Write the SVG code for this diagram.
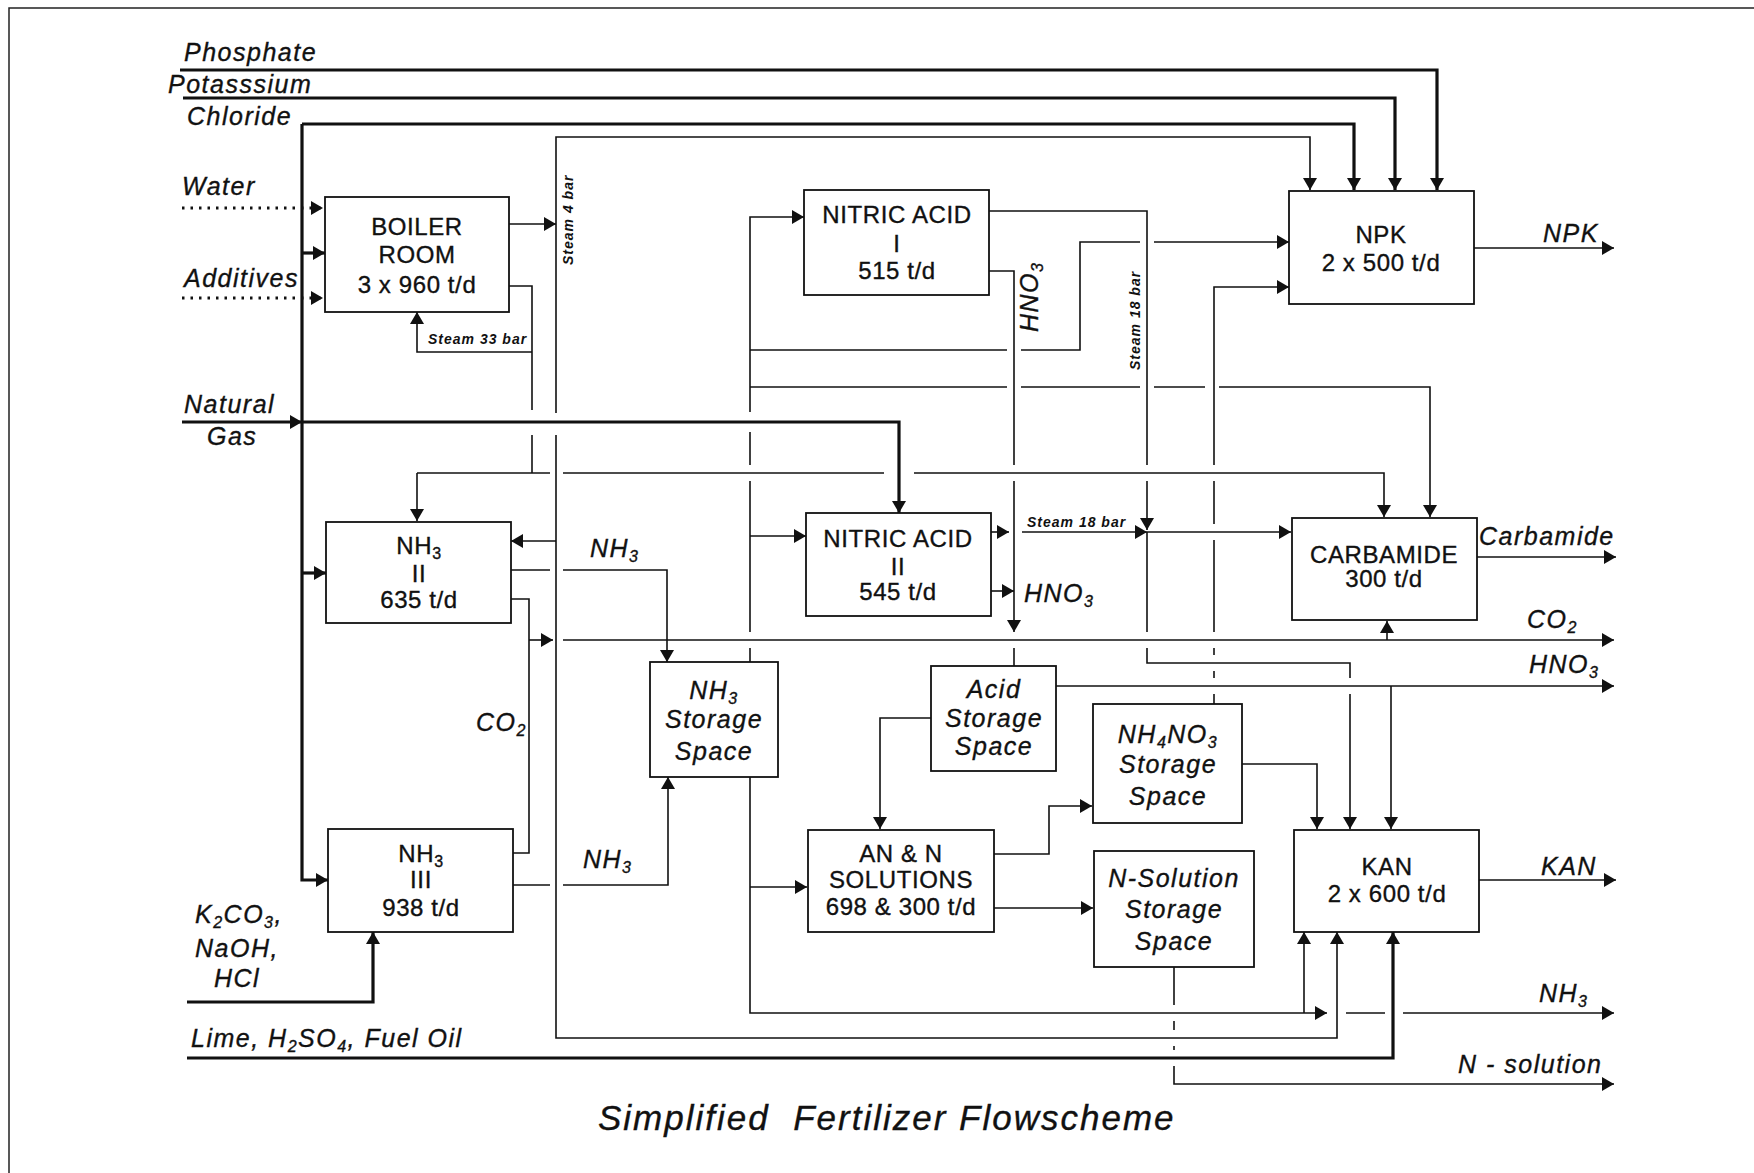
<svg xmlns="http://www.w3.org/2000/svg" width="1754" height="1173" viewBox="0 0 1754 1173">
<style>
.bx{fill:#fff;stroke:#111;stroke-width:1.8}
.t{font-family:"Liberation Sans",Arial,sans-serif;font-size:24px;letter-spacing:0.6px;text-anchor:middle;fill:#111;stroke:#111;stroke-width:0.35}
.ti{font-family:"Liberation Sans",Arial,sans-serif;font-style:italic;font-size:25px;letter-spacing:1.5px;fill:#111;stroke:#111;stroke-width:0.35}
.tc{text-anchor:middle}
.ts{font-family:"Liberation Sans",Arial,sans-serif;font-style:italic;font-weight:bold;font-size:14px;letter-spacing:1px;fill:#111}
.title{font-family:"Liberation Sans",Arial,sans-serif;font-style:italic;font-size:35px;letter-spacing:2px;fill:#111;stroke:#111;stroke-width:0.35}
.thin{fill:none;stroke:#111;stroke-width:1.6}
.thick{fill:none;stroke:#111;stroke-width:3.2}
.dot{fill:none;stroke:#111;stroke-width:3;stroke-dasharray:2.5 6}
.frame{fill:none;stroke:#222;stroke-width:1.5}
</style>
<defs>
<marker id="ah" markerUnits="userSpaceOnUse" markerWidth="13" markerHeight="15" refX="12" refY="7" orient="auto"><path d="M0,0 L12,7 L0,14 z" fill="#111"/></marker>
</defs>
<rect width="1754" height="1173" fill="#fff"/>
<path class="frame" d="M1754,8 H9 V1173"/>

<g id="connectors">
<path class="thick" d="M180,70 H1437 V190" marker-end="url(#ah)"/>
<path class="thick" d="M183,98 H1395 V190" marker-end="url(#ah)"/>
<path class="thick" d="M302,124 H1354 V190" marker-end="url(#ah)"/>
<path class="thick" d="M302,124 V880 H328" marker-end="url(#ah)"/>
<path class="thick" d="M302,253 H325" marker-end="url(#ah)"/>
<path class="thick" d="M302,573 H326" marker-end="url(#ah)"/>
<path class="thick" d="M182,422 H302" marker-end="url(#ah)"/>
<path class="thick" d="M302,422 H899 V513" marker-end="url(#ah)"/>
<path class="thick" d="M187,1002 H373 V932" marker-end="url(#ah)"/>
<path class="thick" d="M187,1058 H1393 V932" marker-end="url(#ah)"/>
<path class="dot" d="M182,208 H323" marker-end="url(#ah)"/>
<path class="dot" d="M182,298 H323" marker-end="url(#ah)"/>
<path class="thin" d="M509,224 H556" marker-end="url(#ah)"/>
<path class="thin" d="M556,413 V137 H1310 V190" marker-end="url(#ah)"/>
<path class="thin" d="M556,435 V1038 H1337 V932" marker-end="url(#ah)"/>
<path class="thin" d="M556,541 H511" marker-end="url(#ah)"/>
<path class="thin" d="M509,286 H532 V410"/>
<path class="thin" d="M532,435 V473"/>
<path class="thin" d="M532,352 H417 V312" marker-end="url(#ah)"/>
<path class="thin" d="M417,473 V521" marker-end="url(#ah)"/>
<path class="thin" d="M417,473 H550"/>
<path class="thin" d="M563,473 H884"/>
<path class="thin" d="M914,473 H1384 V517" marker-end="url(#ah)"/>
<path class="thin" d="M511,570 H550"/>
<path class="thin" d="M563,570 H667 V662" marker-end="url(#ah)"/>
<path class="thin" d="M511,599 H529 V853 H513"/>
<path class="thin" d="M529,640 H553" marker-end="url(#ah)"/>
<path class="thin" d="M563,640 H1614" marker-end="url(#ah)"/>
<path class="thin" d="M1387,640 V621" marker-end="url(#ah)"/>
<path class="thin" d="M513,885 H550"/>
<path class="thin" d="M563,885 H668 V777" marker-end="url(#ah)"/>
<path class="thin" d="M750,662 V648"/>
<path class="thin" d="M750,632 V481"/>
<path class="thin" d="M750,465 V432"/>
<path class="thin" d="M750,412 V217 H804" marker-end="url(#ah)"/>
<path class="thin" d="M750,536 H806" marker-end="url(#ah)"/>
<path class="thin" d="M750,350 H1007"/>
<path class="thin" d="M1021,350 H1080 V242 H1140"/>
<path class="thin" d="M1154,242 H1289" marker-end="url(#ah)"/>
<path class="thin" d="M750,387 H1007"/>
<path class="thin" d="M1021,387 H1140"/>
<path class="thin" d="M1154,387 H1205"/>
<path class="thin" d="M1219,387 H1430 V517" marker-end="url(#ah)"/>
<path class="thin" d="M989,211 H1147 V465"/>
<path class="thin" d="M1147,481 V530" marker-end="url(#ah)"/>
<path class="thin" d="M1147,532 V632"/>
<path class="thin" d="M1147,648 V663 H1350 V678"/>
<path class="thin" d="M1350,694 V829" marker-end="url(#ah)"/>
<path class="thin" d="M989,271 H1014 V465"/>
<path class="thin" d="M1014,481 V632" marker-end="url(#ah)"/>
<path class="thin" d="M1014,648 V666"/>
<path class="thin" d="M991,532 H1009" marker-end="url(#ah)"/>
<path class="thin" d="M1022,532 H1147" marker-end="url(#ah)"/>
<path class="thin" d="M1147,532 H1291" marker-end="url(#ah)"/>
<path class="thin" d="M991,591 H1014" marker-end="url(#ah)"/>
<path class="thin" d="M1056,686 H1614" marker-end="url(#ah)"/>
<path class="thin" d="M1391,686 V829" marker-end="url(#ah)"/>
<path class="thin" d="M931,718 H880 V829" marker-end="url(#ah)"/>
<path class="thin" d="M994,854 H1049 V806 H1092" marker-end="url(#ah)"/>
<path class="thin" d="M994,908 H1093" marker-end="url(#ah)"/>
<path class="thin" d="M1242,764 H1317 V829" marker-end="url(#ah)"/>
<path class="thin" d="M1214,704 V694"/>
<path class="thin" d="M1214,678 V671"/>
<path class="thin" d="M1214,655 V648"/>
<path class="thin" d="M1214,632 V540"/>
<path class="thin" d="M1214,524 V481"/>
<path class="thin" d="M1214,465 V287 H1289" marker-end="url(#ah)"/>
<path class="thin" d="M1174,967 V1005"/>
<path class="thin" d="M1174,1021 V1030"/>
<path class="thin" d="M1174,1046 V1050"/>
<path class="thin" d="M1174,1066 V1084 H1614" marker-end="url(#ah)"/>
<path class="thin" d="M750,777 V1013 H1327" marker-end="url(#ah)"/>
<path class="thin" d="M1304,1013 V932" marker-end="url(#ah)"/>
<path class="thin" d="M1346,1013 H1385"/>
<path class="thin" d="M1403,1013 H1614" marker-end="url(#ah)"/>
<path class="thin" d="M750,887 H807" marker-end="url(#ah)"/>
<path class="thin" d="M1474,248 H1614" marker-end="url(#ah)"/>
<path class="thin" d="M1477,557 H1616" marker-end="url(#ah)"/>
<path class="thin" d="M1479,880 H1616" marker-end="url(#ah)"/>
</g>

<g id="boiler-room"><rect class="bx" x="325" y="197" width="184" height="115"/>
<text class="t" x="417" y="235">BOILER</text><text class="t" x="417" y="263">ROOM</text><text class="t" x="417" y="293">3 x 960 t/d</text></g>
<g id="nh3-ii"><rect class="bx" x="326" y="522" width="185" height="101"/>
<text class="t" x="419" y="554">NH<tspan font-size="16" dy="5">3</tspan></text><text class="t" x="419" y="582">II</text><text class="t" x="419" y="608">635 t/d</text></g>
<g id="nh3-iii"><rect class="bx" x="328" y="829" width="185" height="103"/>
<text class="t" x="421" y="862">NH<tspan font-size="16" dy="5">3</tspan></text><text class="t" x="421" y="888">III</text><text class="t" x="421" y="916">938 t/d</text></g>
<g id="nitric-acid-i"><rect class="bx" x="804" y="190" width="185" height="105"/>
<text class="t" x="897" y="223">NITRIC ACID</text><text class="t" x="897" y="252">I</text><text class="t" x="897" y="279">515 t/d</text></g>
<g id="nitric-acid-ii"><rect class="bx" x="806" y="513" width="185" height="103"/>
<text class="t" x="898" y="547">NITRIC ACID</text><text class="t" x="898" y="575">II</text><text class="t" x="898" y="600">545 t/d</text></g>
<g id="nh3-storage"><rect class="bx" x="650" y="662" width="128" height="115"/>
<text class="ti tc" x="714" y="699">NH<tspan font-size="16" dy="5">3</tspan></text><text class="ti tc" x="714" y="728">Storage</text><text class="ti tc" x="714" y="760">Space</text></g>
<g id="acid-storage"><rect class="bx" x="931" y="666" width="125" height="105"/>
<text class="ti tc" x="994" y="698">Acid</text><text class="ti tc" x="994" y="727">Storage</text><text class="ti tc" x="994" y="755">Space</text></g>
<g id="nh4no3-storage"><rect class="bx" x="1093" y="704" width="149" height="119"/>
<text class="ti tc" x="1168" y="743">NH<tspan font-size="16" dy="5">4</tspan><tspan dy="-5">NO</tspan><tspan font-size="16" dy="5">3</tspan></text><text class="ti tc" x="1168" y="773">Storage</text><text class="ti tc" x="1168" y="805">Space</text></g>
<g id="n-solution-storage"><rect class="bx" x="1094" y="851" width="160" height="116"/>
<text class="ti tc" x="1174" y="887">N-Solution</text><text class="ti tc" x="1174" y="918">Storage</text><text class="ti tc" x="1174" y="950">Space</text></g>
<g id="an-n-solutions"><rect class="bx" x="808" y="830" width="186" height="102"/>
<text class="t" x="901" y="862">AN &amp; N</text><text class="t" x="901" y="888">SOLUTIONS</text><text class="t" x="901" y="915">698 &amp; 300 t/d</text></g>
<g id="npk"><rect class="bx" x="1289" y="191" width="185" height="113"/>
<text class="t" x="1381" y="243">NPK</text><text class="t" x="1381" y="271">2 x 500 t/d</text></g>
<g id="carbamide"><rect class="bx" x="1292" y="518" width="185" height="102"/>
<text class="t" x="1384" y="563">CARBAMIDE</text><text class="t" x="1384" y="587">300 t/d</text></g>
<g id="kan"><rect class="bx" x="1294" y="830" width="185" height="102"/>
<text class="t" x="1387" y="875">KAN</text><text class="t" x="1387" y="902">2 x 600 t/d</text></g>

<g id="labels">
<text class="ti" x="184" y="61">Phosphate</text>
<text class="ti" x="168" y="93">Potasssium</text>
<text class="ti" x="187" y="125">Chloride</text>
<text class="ti" x="182" y="195">Water</text>
<text class="ti" x="184" y="287">Additives</text>
<text class="ti" x="184" y="413">Natural</text>
<text class="ti" x="207" y="445">Gas</text>
<text class="ti" x="195" y="923">K<tspan font-size="16" dy="5">2</tspan><tspan dy="-5">CO</tspan><tspan font-size="16" dy="5">3</tspan><tspan dy="-5">,</tspan></text>
<text class="ti" x="195" y="957">NaOH,</text>
<text class="ti" x="214" y="987">HCl</text>
<text class="ti" x="191" y="1047">Lime, H<tspan font-size="16" dy="5">2</tspan><tspan dy="-5">SO</tspan><tspan font-size="16" dy="5">4</tspan><tspan dy="-5">, Fuel Oil</tspan></text>
<text class="ts" x="428" y="344">Steam 33 bar</text>
<text class="ts" transform="rotate(-90 573 265)" x="573" y="265">Steam 4 bar</text>
<text class="ts" transform="rotate(-90 1140 370)" x="1140" y="370">Steam 18 bar</text>
<text class="ti" transform="rotate(-90 1038 332)" x="1038" y="332">HNO<tspan font-size="16" dy="5">3</tspan></text>
<text class="ts" x="1027" y="527">Steam 18 bar</text>
<text class="ti" x="1024" y="602">HNO<tspan font-size="16" dy="5">3</tspan></text>
<text class="ti" x="590" y="557">NH<tspan font-size="16" dy="5">3</tspan></text>
<text class="ti" x="583" y="868">NH<tspan font-size="16" dy="5">3</tspan></text>
<text class="ti" x="476" y="731">CO<tspan font-size="16" dy="5">2</tspan></text>
<text class="ti" x="1543" y="242">NPK</text>
<text class="ti" x="1479" y="545">Carbamide</text>
<text class="ti" x="1527" y="628">CO<tspan font-size="16" dy="5">2</tspan></text>
<text class="ti" x="1529" y="673">HNO<tspan font-size="16" dy="5">3</tspan></text>
<text class="ti" x="1541" y="875">KAN</text>
<text class="ti" x="1539" y="1002">NH<tspan font-size="16" dy="5">3</tspan></text>
<text class="ti" x="1458" y="1073">N - solution</text>
<text class="title" x="598" y="1130">Simplified&#160; Fertilizer Flowscheme</text>
</g>
</svg>
